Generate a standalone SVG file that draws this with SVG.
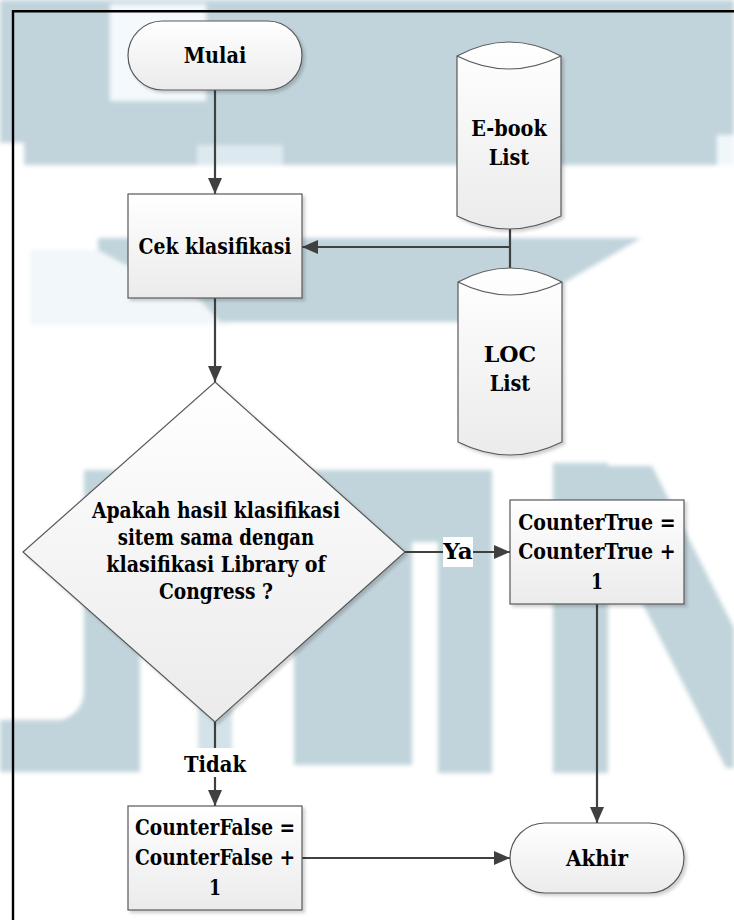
<svg xmlns="http://www.w3.org/2000/svg" width="734" height="920" viewBox="0 0 734 920">
  <defs>
    <linearGradient id="shapeFill" x1="0" y1="0" x2="0" y2="1">
      <stop offset="0" stop-color="#ffffff"/>
      <stop offset="1" stop-color="#ebebeb"/>
    </linearGradient>
    <filter id="shadow" x="-10%" y="-10%" width="130%" height="130%">
      <feDropShadow dx="2.5" dy="2.5" stdDeviation="1.5" flood-color="#000000" flood-opacity="0.18"/>
    </filter>
    <filter id="soft" x="-5%" y="-5%" width="110%" height="110%">
      <feGaussianBlur stdDeviation="2"/>
    </filter>
    <marker id="arrow" markerUnits="userSpaceOnUse" markerWidth="16" markerHeight="14" refX="16" refY="7" orient="auto">
      <path d="M0,0 L16,7 L0,14 Z" fill="#404040"/>
    </marker>
  </defs>

  <rect width="734" height="920" fill="#ffffff"/>

  <!-- background logo -->
  <g id="background" filter="url(#soft)" fill="#c1d4db">
    <rect x="0" y="0" width="734" height="165"/>
    <rect x="110" y="4" width="96" height="97" fill="#f3f9fc"/>
    <rect x="0" y="143" width="24" height="22" fill="#ffffff"/>
    <rect x="197" y="145" width="86" height="20" fill="#dde9ee"/>
    <rect x="717" y="135" width="17" height="30" fill="#f0f7fa"/>
    <rect x="30" y="250" width="200" height="75" fill="#f2f7f9"/>
    <polygon points="98,238 641,238 600,262 560,285 515,310 460,322 220,322 200,300 120,262 98,250"/>
    <path d="M84,470 H140 V772 H0 V720 H62 Q84,712 84,690 Z"/>
    <rect x="198" y="690" width="34" height="82" fill="#d3e2e8"/>
    <rect x="294" y="470" width="198" height="72"/>
    <rect x="294" y="470" width="118" height="295"/>
    <rect x="438" y="470" width="54" height="303"/>
    <rect x="553" y="463" width="55" height="310"/>
    <polygon points="598,466 652,466 734,628 734,768 726,768 604,528"/>
  </g>

  <!-- page frame -->
  <path d="M13,920 V11.2 H734" fill="none" stroke="#000000" stroke-width="2.4"/>

  <!-- connectors -->
  <g id="connectors" fill="none" stroke="#404040" stroke-width="2.2">
    <path d="M215,90 V194" marker-end="url(#arrow)"/>
    <path d="M510,229 V268"/>
    <path d="M510,247 H302" marker-end="url(#arrow)"/>
    <path d="M215,298 V382" marker-end="url(#arrow)"/>
    <path d="M405,552 H510" marker-end="url(#arrow)"/>
    <path d="M215,722 V806" marker-end="url(#arrow)"/>
    <path d="M597,604 V823" marker-end="url(#arrow)"/>
    <path d="M302,858 H510" marker-end="url(#arrow)"/>
  </g>
  <g id="connector-labels">
    <rect x="443" y="537" width="30" height="30" fill="#ffffff"/>
    <text x="458" y="559" text-anchor="middle" font-family="DejaVu Serif, serif" font-weight="bold" font-size="22" textLength="29.6" lengthAdjust="spacingAndGlyphs">Ya</text>
    <rect x="183" y="748" width="64" height="29" fill="#ffffff"/>
    <text x="215" y="772" text-anchor="middle" font-family="DejaVu Serif, serif" font-weight="bold" font-size="22" textLength="62" lengthAdjust="spacingAndGlyphs">Tidak</text>
  </g>

  <g id="mulai">
    <rect x="128" y="21" width="174" height="69" rx="34.5" fill="url(#shapeFill)" stroke="#595959" stroke-width="1.2" filter="url(#shadow)"/>
    <text x="215" y="63" text-anchor="middle" font-family="DejaVu Serif, serif" font-weight="bold" font-size="22" textLength="62.5" lengthAdjust="spacingAndGlyphs">Mulai</text>
  </g>

  <g id="cek-klasifikasi">
    <rect x="128" y="194" width="174" height="104" fill="url(#shapeFill)" stroke="#595959" stroke-width="1.2" filter="url(#shadow)"/>
    <text x="215" y="254" text-anchor="middle" font-family="DejaVu Serif, serif" font-weight="bold" font-size="22" textLength="153" lengthAdjust="spacingAndGlyphs">Cek klasifikasi</text>
  </g>

  <g id="ebook-list">
    <path d="M457,56 Q509,28 561,56 V216 Q509,242 457,216 Z" fill="url(#shapeFill)" stroke="#595959" stroke-width="1.2" filter="url(#shadow)"/>
    <path d="M457,56 Q509,82 561,56" fill="none" stroke="#595959" stroke-width="1.2"/>
    <text x="509" y="136" text-anchor="middle" font-family="DejaVu Serif, serif" font-weight="bold" font-size="22" textLength="75.5" lengthAdjust="spacingAndGlyphs">E-book</text>
    <text x="509" y="165" text-anchor="middle" font-family="DejaVu Serif, serif" font-weight="bold" font-size="22" textLength="40.5" lengthAdjust="spacingAndGlyphs">List</text>
  </g>

  <g id="loc-list">
    <path d="M458,282 Q510,254 562,282 V442 Q510,468 458,442 Z" fill="url(#shapeFill)" stroke="#595959" stroke-width="1.2" filter="url(#shadow)"/>
    <path d="M458,282 Q510,308 562,282" fill="none" stroke="#595959" stroke-width="1.2"/>
    <text x="510" y="362" text-anchor="middle" font-family="DejaVu Serif, serif" font-weight="bold" font-size="22" textLength="52.5" lengthAdjust="spacingAndGlyphs">LOC</text>
    <text x="510" y="391" text-anchor="middle" font-family="DejaVu Serif, serif" font-weight="bold" font-size="22" textLength="40.5" lengthAdjust="spacingAndGlyphs">List</text>
  </g>

  <g id="keputusan">
    <path d="M215,382 L405,552 L215,722 L23,552 Z" fill="url(#shapeFill)" stroke="#595959" stroke-width="1.2" filter="url(#shadow)"/>
    <text x="216" y="518" text-anchor="middle" font-family="DejaVu Serif, serif" font-weight="bold" font-size="22" textLength="248" lengthAdjust="spacingAndGlyphs">Apakah hasil klasifikasi</text>
    <text x="216" y="545" text-anchor="middle" font-family="DejaVu Serif, serif" font-weight="bold" font-size="22" textLength="196.5" lengthAdjust="spacingAndGlyphs">sitem sama dengan</text>
    <text x="216" y="572" text-anchor="middle" font-family="DejaVu Serif, serif" font-weight="bold" font-size="22" textLength="219.5" lengthAdjust="spacingAndGlyphs">klasifikasi Library of</text>
    <text x="216" y="599" text-anchor="middle" font-family="DejaVu Serif, serif" font-weight="bold" font-size="22" textLength="114" lengthAdjust="spacingAndGlyphs">Congress ?</text>
  </g>

  <g id="counter-true">
    <rect x="510" y="500" width="174" height="104" fill="url(#shapeFill)" stroke="#595959" stroke-width="1.2" filter="url(#shadow)"/>
    <text x="597" y="530" text-anchor="middle" font-family="DejaVu Serif, serif" font-weight="bold" font-size="22" textLength="157.5" lengthAdjust="spacingAndGlyphs">CounterTrue =</text>
    <text x="597" y="559" text-anchor="middle" font-family="DejaVu Serif, serif" font-weight="bold" font-size="22" textLength="157.5" lengthAdjust="spacingAndGlyphs">CounterTrue +</text>
    <text x="597" y="589" text-anchor="middle" font-family="DejaVu Serif, serif" font-weight="bold" font-size="22" textLength="12" lengthAdjust="spacingAndGlyphs">1</text>
  </g>

  <g id="counter-false">
    <rect x="128" y="806" width="174" height="104" fill="url(#shapeFill)" stroke="#595959" stroke-width="1.2" filter="url(#shadow)"/>
    <text x="215" y="835" text-anchor="middle" font-family="DejaVu Serif, serif" font-weight="bold" font-size="22" textLength="160" lengthAdjust="spacingAndGlyphs">CounterFalse =</text>
    <text x="215" y="865" text-anchor="middle" font-family="DejaVu Serif, serif" font-weight="bold" font-size="22" textLength="160" lengthAdjust="spacingAndGlyphs">CounterFalse +</text>
    <text x="215" y="895" text-anchor="middle" font-family="DejaVu Serif, serif" font-weight="bold" font-size="22" textLength="12" lengthAdjust="spacingAndGlyphs">1</text>
  </g>

  <g id="akhir">
    <rect x="510" y="823" width="174" height="70" rx="35" fill="url(#shapeFill)" stroke="#595959" stroke-width="1.2" filter="url(#shadow)"/>
    <text x="597" y="866" text-anchor="middle" font-family="DejaVu Serif, serif" font-weight="bold" font-size="22" textLength="62" lengthAdjust="spacingAndGlyphs">Akhir</text>
  </g>
</svg>
